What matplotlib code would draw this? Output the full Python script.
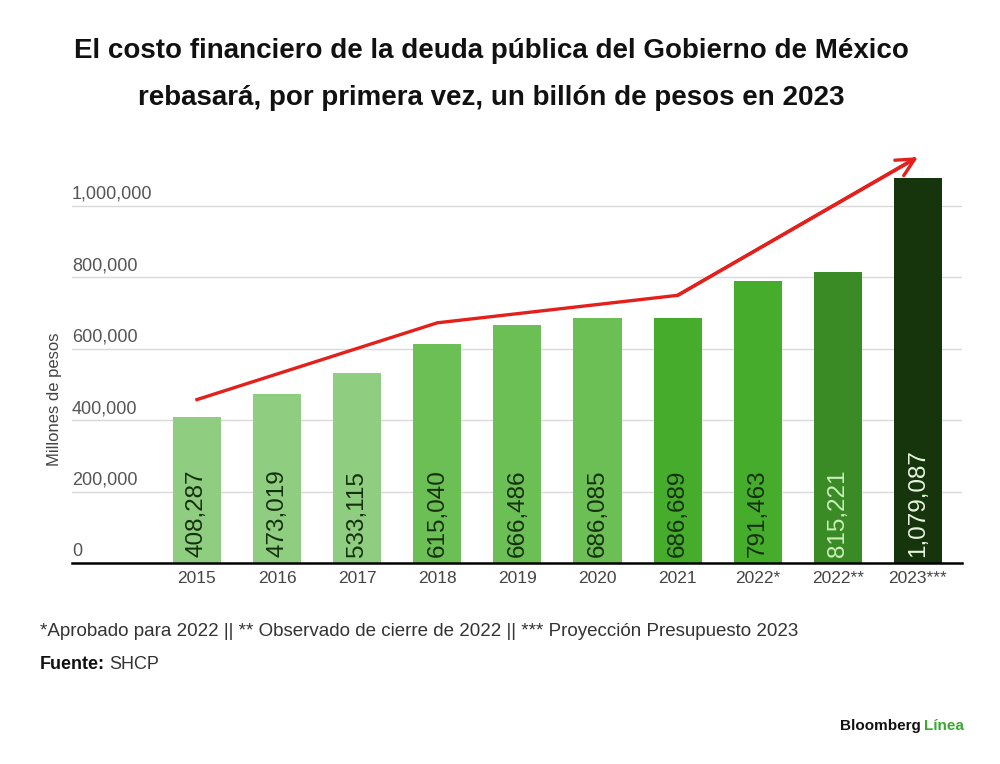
import matplotlib.pyplot as plt
import matplotlib.transforms as mtransforms
import numpy as np

plt.rcParams["font.family"] = ["Liberation Sans", "DejaVu Sans"]

# ── data ─────────────────────────────────────────────────────────────────────
categories = ["2015", "2016", "2017", "2018", "2019", "2020",
              "2021", "2022*", "2022**", "2023***"]
values = [408287, 473019, 533115, 615040, 666486, 686085,
          686689, 791463, 815221, 1079087]
bar_colors = ["#8fce80", "#8fce80", "#8fce80", "#6bbf55", "#6bbf55",
              "#6bbf55", "#46ad2c", "#46ad2c", "#3a8a25", "#17350d"]
label_colors = ["#15300c"] * 8 + ["#c9f0b8", "#e8f5e0"]

# red trend arrow (category index, value)
trend_x = [0, 3, 6, 9]
trend_y = [458000, 673000, 750000, 1137000]

y_ticks = [0, 200000, 400000, 600000, 800000, 1000000]

title = ("El costo financiero de la deuda pública del Gobierno de México\n"
         "rebasará, por primera vez, un billón de pesos en 2023")
footnote = ("*Aprobado para 2022 || ** Observado de cierre de 2022 || "
            "*** Proyección Presupuesto 2023")

# ── figure ───────────────────────────────────────────────────────────────────
fig = plt.figure(figsize=(10, 7.64), dpi=100)
ax = fig.add_axes([0.072, 0.263, 0.890, 0.542])

x = np.arange(len(categories))
ax.bar(x, values, width=0.6, color=bar_colors, zorder=2)

for xi, v, c in zip(x, values, label_colors):
    ax.text(xi, 18000, f"{v:,}", rotation=90, ha="center", va="bottom",
            fontsize=17.5, color=c, zorder=3)

ax.plot(trend_x[:-1] + [trend_x[-1] - 0.05], trend_y[:-1] + [trend_y[-1] - 5000],
        color="#e3201b", lw=2.4, zorder=4, solid_joinstyle="miter")
ax.annotate("", xy=(trend_x[-1], trend_y[-1]),
            xytext=(trend_x[-2], trend_y[-2]),
            arrowprops=dict(arrowstyle="->", color="#e3201b", lw=2.4,
                            mutation_scale=32, shrinkA=0, shrinkB=0),
            zorder=4)

ax.set_xlim(-1.56, 9.55)
ax.set_ylim(0, 1160000)

for s in ["top", "right", "left"]:
    ax.spines[s].set_visible(False)
ax.spines["bottom"].set_linewidth(1.8)
ax.spines["bottom"].set_color("black")
ax.spines["bottom"].set_zorder(5)

ax.set_yticks(y_ticks)
ax.set_yticklabels([])
ax.tick_params(axis="y", length=0)
ax.grid(axis="y", color="#d9d9d9", lw=1, zorder=0)

# y labels sit above their grid lines, flush left
trans = mtransforms.blended_transform_factory(ax.transAxes, ax.transData)
for t in y_ticks:
    ax.text(0.0, t + 9000, f"{t:,}", transform=trans, ha="left",
            va="bottom", fontsize=13, color="#555555")

ax.set_xticks(x)
ax.set_xticklabels(categories, fontsize=12.5, color="#444444")
ax.tick_params(axis="x", length=0, pad=6)

fig.text(0.055, 0.478, "Millones de pesos", rotation=90, ha="center",
         va="center", fontsize=12, color="#444444")

# ── texts ────────────────────────────────────────────────────────────────────
fig.text(0.491, 0.902, title, ha="center", va="center", fontsize=20,
         fontweight="bold", linespacing=2.05, color="#111111")
fig.text(0.04, 0.173, footnote, ha="left", va="center", fontsize=13.5,
         color="#333333")
fuente = fig.text(0.04, 0.130, "Fuente:", ha="left", va="center",
                  fontsize=13, fontweight="bold", color="#111111")
ax.annotate("SHCP", xy=(1, 0.5), xycoords=fuente, xytext=(3, 0),
            textcoords="offset points", ha="left", va="center",
            fontsize=13, color="#333333", annotation_clip=False)
bloom = fig.text(0.84, 0.050, "Bloomberg", ha="left", va="center",
                 fontsize=11, fontweight="bold", color="#111111")
ax.annotate("Línea", xy=(1, 0.5), xycoords=bloom, xytext=(2, 0),
            textcoords="offset points", ha="left", va="center",
            fontsize=11, fontweight="bold", color="#3aa832",
            annotation_clip=False)

fig.savefig("out.png", dpi=100)
